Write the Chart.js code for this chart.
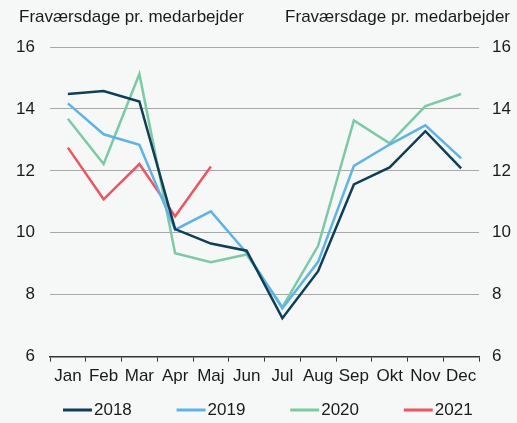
<!DOCTYPE html>
<html lang="da">
<head>
    <meta charset="UTF-8">
    <title>Fraværsdage pr. medarbejder</title>
    <script src="https://cdn.jsdelivr.net/npm/chart.js"></script>
    <style>
        body {
            margin: 0;
            padding: 0;
            background: #f6f8f8;
            font-family: "Liberation Sans", Arial, sans-serif;
        }

        #chartContainer {
            position: relative;
            width: 517px;
            height: 423px;
        }
    </style>
</head>
<body>
    <div id="chartContainer">
        <canvas id="chart"></canvas>
    </div>

    <script>
        // Data
        const months = ['Jan', 'Feb', 'Mar', 'Apr', 'Maj', 'Jun', 'Jul', 'Aug', 'Sep', 'Okt', 'Nov', 'Dec'];
        const years = ['2018', '2019', '2020', '2021'];
        const data2018 = [14.48, 14.58, 14.24, 10.12, 9.65, 9.42, 7.24, 8.76, 11.56, 12.11, 13.28, 12.08];
        const data2019 = [14.18, 13.18, 12.84, 10.10, 10.69, 9.35, 7.56, 9.06, 12.16, 12.85, 13.47, 12.40];
        const data2020 = [13.68, 12.22, 15.13, 9.34, 9.05, 9.30, 7.60, 9.58, 13.63, 12.89, 14.09, 14.48];
        const data2021 = [12.75, 11.08, 12.22, 10.53, 12.14];
        const yTicks = [6, 8, 10, 12, 14, 16];
        const axisTitle = 'Fraværsdage pr. medarbejder';

        const colors = ['#0f3f57', '#5fb3e6', '#7ccaa5', '#ef5561'];
        const textColor = '#1a1a1a';
        const fontFamily = '"Liberation Sans", Arial, sans-serif';
        Chart.defaults.font.family = fontFamily;
        Chart.defaults.font.size = 17;
        Chart.defaults.color = textColor;

        // Aksetitler øverst og en enkel forklaring nederst
        const extras = {
            id: 'extras',
            afterDraw(chart) {
                const ctx = chart.ctx;
                ctx.save();
                ctx.font = '17px ' + fontFamily;
                ctx.fillStyle = textColor;
                ctx.textBaseline = 'middle';
                ctx.textAlign = 'left';
                ctx.fillText(axisTitle, 19, 17);
                ctx.textAlign = 'right';
                ctx.fillText(axisTitle, 510, 17);

                // forklaring
                const y = 410;
                chart.data.datasets.forEach((ds, i) => {
                    const x = 63 + i * 113.6;
                    ctx.strokeStyle = ds.borderColor;
                    ctx.lineWidth = 3;
                    ctx.beginPath();
                    ctx.moveTo(x, y);
                    ctx.lineTo(x + 29, y);
                    ctx.stroke();
                    ctx.textAlign = 'left';
                    ctx.fillStyle = textColor;
                    ctx.fillText(ds.label, x + 31, y);
                });
                ctx.restore();
            }
        };

        const series = [data2018, data2019, data2020, data2021];
        const datasets = series.map((values, i) => ({
            label: years[i],
            data: values,
            borderColor: colors[i],
            backgroundColor: colors[i],
            borderWidth: 2.5,
            pointRadius: 0,
            tension: 0,
            yAxisID: 'y'
        }));

        const yCommon = {
            min: 6,
            max: 16,
            afterBuildTicks: axis => { axis.ticks = yTicks.map(v => ({ value: v })); },
            border: { display: false }
        };

        new Chart(document.getElementById('chart').getContext('2d'), {
            type: 'line',
            data: { labels: months, datasets: datasets },
            options: {
                responsive: true,
                maintainAspectRatio: false,
                animation: false,
                layout: { padding: { top: 47, left: 0, right: 0, bottom: 31 } },
                plugins: {
                    legend: { display: false },
                    tooltip: { enabled: false }
                },
                scales: {
                    x: {
                        offset: true,
                        grid: {
                            offset: true,
                            drawOnChartArea: false,
                            drawTicks: true,
                            tickLength: 5,
                            color: '#333333'
                        },
                        border: { display: true, color: '#333333', width: 1.5 },
                        ticks: { padding: 5, maxRotation: 0, autoSkip: false }
                    },
                    y: Object.assign({}, yCommon, {
                        position: 'left',
                        grid: { color: '#a8a8a8', lineWidth: 1, drawTicks: false },
                        ticks: { padding: 15 },
                        afterFit: axis => { axis.width = 50; }
                    }),
                    y2: Object.assign({}, yCommon, {
                        position: 'right',
                        grid: { display: false, drawTicks: false },
                        ticks: { padding: 13 },
                        afterFit: axis => { axis.width = 38; }
                    })
                }
            },
            plugins: [extras]
        });
    </script>
</body>
</html>
